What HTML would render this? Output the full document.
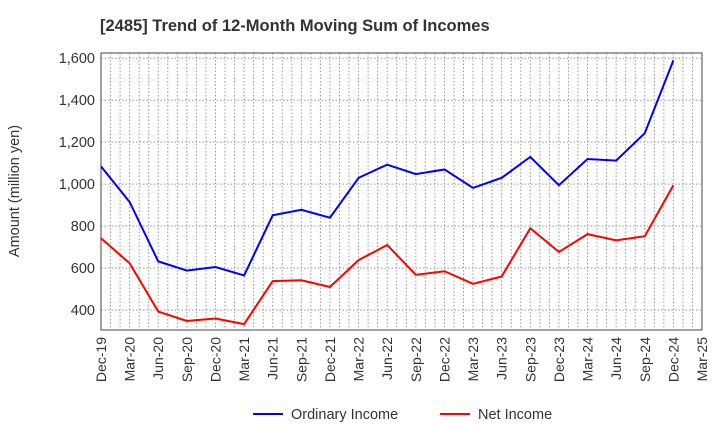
<!DOCTYPE html>
<html><head><meta charset="utf-8"><style>
body{margin:0;background:#fff;}
svg text{font-family:"Liberation Sans",Arial,sans-serif;}
</style></head><body>
<svg id="chart" width="720" height="440" xmlns="http://www.w3.org/2000/svg">
<text x="100" y="31" font-size="16.5" font-weight="bold" fill="#333">[2485]  Trend of 12-Month Moving Sum of Incomes</text>
<text transform="translate(19,191) rotate(-90)" text-anchor="middle" font-size="14.5" fill="#333">Amount (million yen)</text>
<g id="grid"></g><g id="axes"></g><g id="series"></g>
<g>
<line x1="253" y1="414" x2="283" y2="414" stroke="#0000ff" stroke-width="2"/>
<text x="291" y="419" font-size="14.5" fill="#333">Ordinary Income</text>
<line x1="440" y1="414" x2="470" y2="414" stroke="#ff0000" stroke-width="2"/>
<text x="478" y="419" font-size="14.5" fill="#333">Net Income</text>
</g>
</svg>
<script>
const categories=["Dec-19","Mar-20","Jun-20","Sep-20","Dec-20","Mar-21","Jun-21","Sep-21","Dec-21","Mar-22","Jun-22","Sep-22","Dec-22","Mar-23","Jun-23","Sep-23","Dec-23","Mar-24","Jun-24","Sep-24","Dec-24","Mar-25"];
const ordinaryIncome=[1085,915,632,588,605,565,852,878,840,1030,1093,1048,1070,982,1030,1130,995,1120,1112,1243,1590];
const netIncome=[742,623,393,348,360,333,538,542,510,638,710,568,585,525,560,790,677,762,732,752,995];
const yTicks=[400,600,800,1000,1200,1400,1600];
const L=101,R=702,T=53,B=330,YMIN=305,YMAX=1625;
const NS="http://www.w3.org/2000/svg";
const x=i=>L+(R-L)*i/(categories.length-1);
const y=v=>B-(v-YMIN)/(YMAX-YMIN)*(B-T);
function mk(t,a,p){const e=document.createElementNS(NS,t);for(const k in a)e.setAttribute(k,a[k]);p.appendChild(e);return e;}
const grid=document.getElementById('grid'),axes=document.getElementById('axes'),ser=document.getElementById('series');
for(let m=1;m<(categories.length-1)*3;m++){const xx=L+(R-L)*m/((categories.length-1)*3);
const g=mk('line',{x1:xx,x2:xx,y1:T,y2:B,stroke:'#999','stroke-dasharray':'1.5,2','stroke-width':1},grid);

}
yTicks.forEach(v=>{const g=mk('line',{x1:L,x2:R,y1:y(v),y2:y(v),stroke:'#999','stroke-dasharray':'1.5,2','stroke-width':1},grid);


const t=mk('text',{x:L-6,y:y(v)+5,'text-anchor':'end','font-size':14.5,fill:'#333'},axes);t.textContent=v.toLocaleString('en-US');

});
categories.forEach((c,i)=>{const t=mk('text',{transform:`translate(${x(i)+5},337) rotate(-90)`,'text-anchor':'end','font-size':14,fill:'#333'},axes);t.textContent=c;

});
const fr=mk('rect',{x:L,y:T,width:R-L,height:B-T,fill:'none',stroke:'#444','stroke-width':1},axes);


function line(d,col,name){const p=mk('polyline',{points:d.map((v,i)=>x(i)+','+y(v)).join(' '),fill:'none',stroke:col,'stroke-width':2},ser);

}
line(ordinaryIncome,'#0000ff','ordinary-income-line');
line(netIncome,'#ff0000','net-income-line');
</script>
</body></html>
